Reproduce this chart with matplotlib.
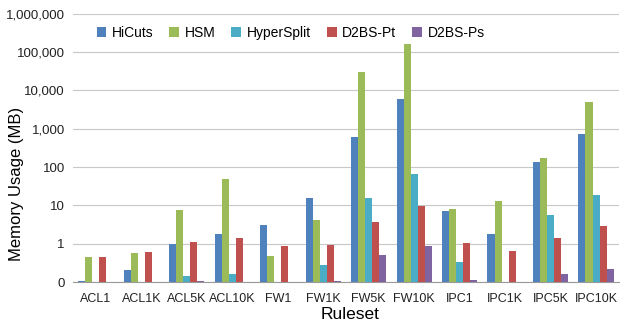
import numpy as np
import matplotlib.pyplot as plt
from matplotlib.ticker import FixedLocator, FixedFormatter

plt.rcParams["font.family"] = ["Liberation Sans", "DejaVu Sans"]

rulesets = ["ACL1", "ACL1K", "ACL5K", "ACL10K", "FW1", "FW1K",
            "FW5K", "FW10K", "IPC1", "IPC1K", "IPC5K", "IPC10K"]

hicuts = [0.106, 0.21, 1.0, 1.78, 3.1, 15.7, 617, 5900, 7.3, 1.81, 138, 741]
hsm = [0.46, 0.58, 7.8, 48, 0.475, 4.2, 29600, 165000, 7.9, 13, 175, 4900]
hypersplit = [0, 0, 0.14, 0.158, 0, 0.28, 16, 66, 0.34, 0, 5.75, 19]
d2bs_pt = [0.45, 0.615, 1.12, 1.4, 0.9, 0.94, 3.6, 9.5, 1.03, 0.65, 1.45, 2.86]
d2bs_ps = [0, 0, 0.11, 0.102, 0, 0.106, 0.5, 0.85, 0.115, 0, 0.165, 0.218]

series = {
    "HiCuts": hicuts,
    "HSM": hsm,
    "HyperSplit": hypersplit,
    "D2BS-Pt": d2bs_pt,
    "D2BS-Ps": d2bs_ps,
}
colors = ["#4F81BD", "#9BBB59", "#4BACC6", "#C0504D", "#8064A2"]

fig = plt.figure(figsize=(6.2, 3.25), dpi=100)
ax = fig.add_axes([0.118, 0.132, 0.88, 0.826])

x = np.arange(len(rulesets))
width = 0.155
for i, (name, vals) in enumerate(series.items()):
    vals = np.array(vals, dtype=float)
    vals[vals <= 0] = np.nan
    ax.bar(x + (i - 2) * width, vals, width, color=colors[i], label=name, zorder=3)

ax.set_yscale("log")
ax.set_ylim(0.1, 1e6)
ax.set_xlim(-0.5, len(rulesets) - 0.5)

ticks = [0.1, 1, 10, 100, 1e3, 1e4, 1e5, 1e6]
ax.yaxis.set_major_locator(FixedLocator(ticks))
ax.yaxis.set_major_formatter(FixedFormatter(
    ["0", "1", "10", "100", "1,000", "10,000", "100,000", "1,000,000"]))
ax.yaxis.set_minor_locator(FixedLocator([]))

ax.set_xticks(x)
ax.set_xticklabels(rulesets)
ax.tick_params(axis="both", length=0, colors="#222222")
ax.tick_params(axis="x", pad=8, labelsize=9)
ax.tick_params(axis="y", pad=6, labelsize=9.5)

ax.grid(axis="y", color="#c8c8c8", linewidth=0.8, zorder=0)
for side in ["left", "right", "top"]:
    ax.spines[side].set_visible(False)
ax.spines["bottom"].set_color("#999999")

ax.set_ylabel("Memory Usage (MB)", fontsize=12)
ax.yaxis.set_label_coords(-0.091, 0.366)
ax.set_xlabel("Ruleset", fontsize=12.5)
ax.xaxis.set_label_coords(0.507, -0.093)

ax.legend(loc="upper left", bbox_to_anchor=(0.02, 1.0), ncol=5, frameon=False,
          fontsize=10, handlelength=0.7, handleheight=0.7, columnspacing=1.15,
          handletextpad=0.4)

fig.savefig("out.png", dpi=100)
